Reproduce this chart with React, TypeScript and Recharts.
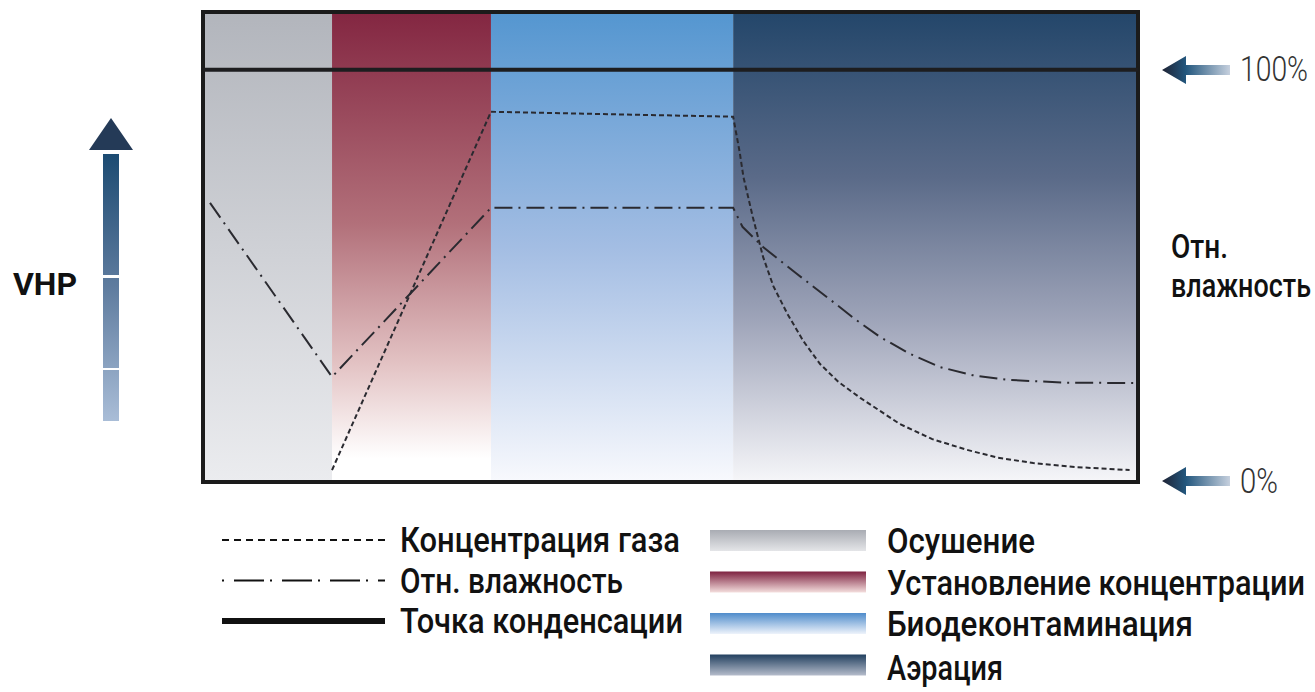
import { LineChart, Line, XAxis, YAxis, ReferenceArea } from 'recharts';

// phase boundaries (time, % of cycle)
const phases = [
  { name: 'Осушение', from: 0, to: 13.8, grad: 'gDry' },
  { name: 'Установление концентрации', from: 13.8, to: 30.8, grad: 'gCond' },
  { name: 'Биодеконтаминация', from: 30.8, to: 56.7, grad: 'gBio' },
  { name: 'Аэрация', from: 56.7, to: 100, grad: 'gAer' },
];

// gas concentration, %
const gasData = [
  { t: 13.8, v: 2.9 },
  { t: 30.8, v: 89.8 },
  { t: 56.7, v: 88.6 },
  { t: 57.4, v: 80.0 },
  { t: 57.8, v: 74.0 },
  { t: 58.8, v: 64.3 },
  { t: 59.9, v: 54.6 },
  { t: 61.0, v: 47.5 },
  { t: 62.5, v: 40.8 },
  { t: 64.2, v: 34.2 },
  { t: 66.0, v: 28.6 },
  { t: 68.0, v: 24.2 },
  { t: 70.3, v: 20.4 },
  { t: 74.5, v: 14.1 },
  { t: 78.0, v: 10.4 },
  { t: 81.7, v: 7.8 },
  { t: 85.0, v: 5.9 },
  { t: 88.8, v: 4.6 },
  { t: 93.5, v: 3.6 },
  { t: 99.1, v: 2.9 },
];

// relative humidity, %
const humidityData = [
  { t: 0.75, v: 67.7 },
  { t: 13.8, v: 25.5 },
  { t: 30.8, v: 66.5 },
  { t: 56.7, v: 66.5 },
  { t: 57.7, v: 61.9 },
  { t: 59.9, v: 57.0 },
  { t: 63.5, v: 50.5 },
  { t: 67.1, v: 44.2 },
  { t: 69.8, v: 39.4 },
  { t: 72.4, v: 35.2 },
  { t: 75.5, v: 31.2 },
  { t: 78.8, v: 27.9 },
  { t: 82.3, v: 25.9 },
  { t: 86.0, v: 24.8 },
  { t: 92.0, v: 24.1 },
  { t: 99.5, v: 24.0 },
];

// dew point (condensation), %
const dewData = [
  { t: 0, v: 100 },
  { t: 100, v: 100 },
];

const seriesLegend = [
  { label: 'Концентрация газа', dash: '7 5', width: 2, w: 280 },
  { label: 'Отн. влажность', dash: '2 10 30 6', width: 2, w: 223 },
  { label: 'Точка конденсации', dash: '', width: 6, w: 283 },
];

const phaseLegend = [
  { label: 'Осушение', top: '#a9acb3', bottom: '#e4e5e8', w: 148 },
  { label: 'Установление концентрации', top: '#7e2240', bottom: '#f4dedd', w: 418 },
  { label: 'Биодеконтаминация', top: '#4f8ccb', bottom: '#eef3fb', w: 306 },
  { label: 'Аэрация', top: '#22405f', bottom: '#b5bccb', w: 116 },
];

const font = 'Roboto, "Liberation Sans", sans-serif';

function LeftArrow({ y, id }: { y: number; id: string }) {
  return (
    <g transform={`translate(1160, ${y - 15})`}>
      <defs>
        <linearGradient id={id} x1="0" y1="0" x2="1" y2="0">
          <stop offset="0" stopColor="#1f2233" />
          <stop offset="0.35" stopColor="#23577e" />
          <stop offset="1" stopColor="#c6d0de" />
        </linearGradient>
      </defs>
      <polygon points="2,15 26,1 26,10 70,10 70,20 26,20 26,29" fill={`url(#${id})`} />
    </g>
  );
}

export default function App() {
  return (
    <div style={{ position: 'absolute', left: 0, top: 0, width: 1315, height: 692, background: '#fff', fontFamily: font, color: '#111' }}>
      <div style={{ position: 'absolute', left: 0, top: 0 }}>
        <LineChart
          width={1315}
          height={500}
          margin={{ top: 12, left: 203, right: 177, bottom: 18 }}
        >
          <defs>
            <linearGradient id="gDry" x1="0" y1="0" x2="0" y2="1">
              <stop offset="0" stopColor="#b2b5bc" />
              <stop offset="1" stopColor="#ebecef" />
            </linearGradient>
            <linearGradient id="gCond" x1="0" y1="0" x2="0" y2="1">
              <stop offset="0" stopColor="#832641" />
              <stop offset="0.45" stopColor="#b2707a" />
              <stop offset="0.75" stopColor="#e3c3c4" />
              <stop offset="0.95" stopColor="#ffffff" />
            </linearGradient>
            <linearGradient id="gBio" x1="0" y1="0" x2="0" y2="1">
              <stop offset="0" stopColor="#5496d0" />
              <stop offset="0.5" stopColor="#a3bde3" />
              <stop offset="1" stopColor="#f8f9fd" />
            </linearGradient>
            <linearGradient id="gAer" x1="0" y1="0" x2="0" y2="1">
              <stop offset="0" stopColor="#23466a" />
              <stop offset="0.35" stopColor="#5a6a88" />
              <stop offset="0.65" stopColor="#9da3b8" />
              <stop offset="1" stopColor="#f6f6f9" />
            </linearGradient>
          </defs>
          <XAxis type="number" dataKey="t" domain={[0, 100]} hide allowDuplicatedCategory={false} />
          <YAxis type="number" dataKey="v" domain={[0, 114]} hide />
          {phases.map((p) => (
            <ReferenceArea key={p.name} x1={p.from} x2={p.to} y1={0} y2={114} fill={`url(#${p.grad})`} fillOpacity={1} stroke="none" />
          ))}
          <Line data={dewData} dataKey="v" type="linear" stroke="#1d1d1f" strokeWidth={4} dot={false} activeDot={false} isAnimationActive={false} />
          <Line data={humidityData} dataKey="v" type="linear" stroke="#2a2a30" strokeWidth={2} strokeDasharray="18 6 2 6" dot={false} activeDot={false} isAnimationActive={false} />
          <Line data={gasData} dataKey="v" type="linear" stroke="#2a2a30" strokeWidth={2} strokeDasharray="5 3" dot={false} activeDot={false} isAnimationActive={false} />
          <ReferenceArea x1={0} x2={100} y1={0} y2={114} fill="none" stroke="#1b1b1b" strokeWidth={4} />
        </LineChart>
      </div>

      {/* annotations and legend */}
      <svg style={{ position: 'absolute', left: 0, top: 0 }} width={1315} height={692} fontFamily={font}>
        <defs>
          <linearGradient id="vhp" x1="0" y1="0" x2="0" y2="1">
            <stop offset="0" stopColor="#1c4b72" />
            <stop offset="0.5" stopColor="#5f7c9f" />
            <stop offset="1" stopColor="#a9bdd7" />
          </linearGradient>
          {phaseLegend.map((p, i) => (
            <linearGradient key={p.label} id={`sw${i}`} x1="0" y1="0" x2="0" y2="1">
              <stop offset="0" stopColor={p.top} />
              <stop offset="1" stopColor={p.bottom} />
            </linearGradient>
          ))}
        </defs>

        {/* VHP arrow */}
        <text x={13} y={295} fontSize={32} fontWeight={700} fill="#111" textLength={64} lengthAdjust="spacingAndGlyphs">VHP</text>
        <polygon points="111,118 133,150 89,150" fill="#243a57" />
        <rect x={103} y={154} width={16} height={267} fill="url(#vhp)" />
        <rect x={103} y={275} width={16} height={3} fill="#fff" />
        <rect x={103} y={368} width={16} height={2} fill="#fff" />

        {/* right-hand scale */}
        <LeftArrow y={70} id="la1" />
        <LeftArrow y={481} id="la2" />
        <text x={1240} y={81} fontSize={35} fontWeight={300} fill="#333" textLength={68} lengthAdjust="spacingAndGlyphs">100%</text>
        <text x={1240} y={493} fontSize={35} fontWeight={300} fill="#333" textLength={38} lengthAdjust="spacingAndGlyphs">0%</text>
        <text x={1171} y={258} fontSize={34} fontWeight={500} fill="#111" textLength={57} lengthAdjust="spacingAndGlyphs">Отн.</text>
        <text x={1171} y={297} fontSize={34} fontWeight={500} fill="#111" textLength={140} lengthAdjust="spacingAndGlyphs">влажность</text>

        {/* legend: series */}
        {seriesLegend.map((s, i) => (
          <g key={s.label}>
            <line x1={222} y1={540 + i * 40.5} x2={385} y2={540 + i * 40.5} stroke="#111" strokeWidth={s.width} strokeDasharray={s.dash} />
            <text x={400} y={552 + i * 40.5} fontSize={35} fontWeight={500} fill="#111" textLength={s.w} lengthAdjust="spacingAndGlyphs">{s.label}</text>
          </g>
        ))}

        {/* legend: phases */}
        {phaseLegend.map((p, i) => (
          <g key={p.label}>
            <rect x={710} y={530 + i * 41.5} width={156} height={21} fill={`url(#sw${i})`} />
            <text x={887} y={553 + i * 41.5 + (i === 3 ? 2 : 0)} fontSize={35} fontWeight={500} fill="#111" textLength={p.w} lengthAdjust="spacingAndGlyphs">{p.label}</text>
          </g>
        ))}
      </svg>
    </div>
  );
}
